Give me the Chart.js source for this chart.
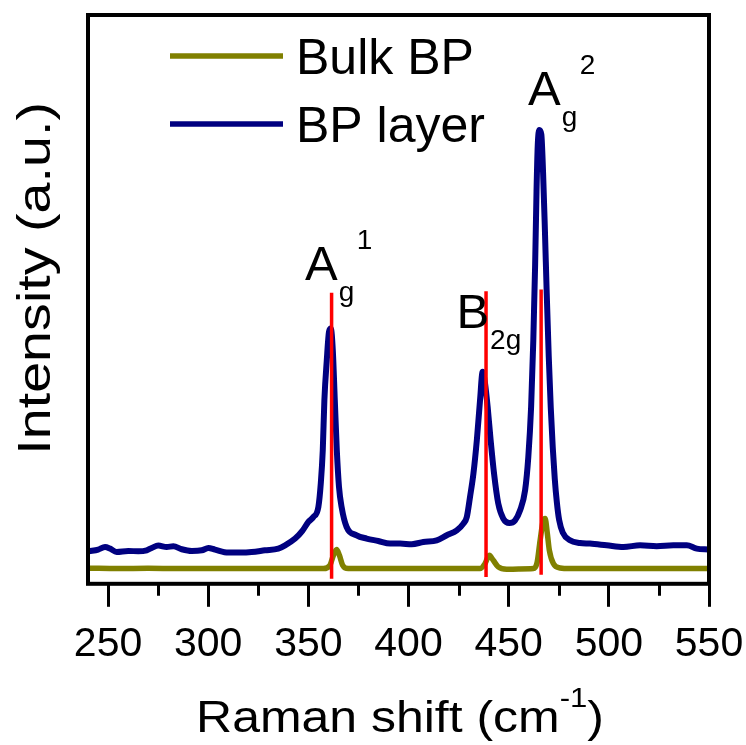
<!DOCTYPE html>
<html>
<head>
<meta charset="utf-8">
<title>Raman spectra of black phosphorus</title>
<script src="https://cdn.jsdelivr.net/npm/chart.js"></script>
<style>
  html, body { margin: 0; padding: 0; background: #fff; }
  canvas { display: block; }
</style>
</head>
<body>
<canvas id="ramanChart" width="746" height="745"></canvas>
<script>
// BP layer spectrum: Raman shift (cm-1) and intensity (a.u.)
const bpLayerShift = [
  240.5, 245.1, 248.5, 251.0, 254.3, 260.1, 265.1, 269.3, 271.8, 275.1,
  279.3, 282.6, 286.8, 291.8, 296.8, 300.1, 303.4, 310.0, 316.7, 321.7,
  328.3, 335.0, 338.4, 343.4, 347.0, 350.0, 352.5, 355.0, 356.2, 357.2,
  358.0, 359.2, 360.3, 361.2, 362.2, 363.2, 364.2, 365.3, 366.6, 369.1,
  374.1, 379.1, 384.9, 390.8, 395.8, 401.6, 407.4, 414.1, 419.1, 424.1,
  427.4, 429.1, 430.7, 432.4, 434.1, 435.7, 437.0, 438.2, 439.5, 441.0,
  442.7, 444.8, 447.3, 450.3, 453.2, 455.7, 458.2, 459.8, 461.2, 462.3,
  463.2, 463.9, 464.5, 465.3, 466.3, 467.2, 468.1, 469.0, 470.0, 471.0,
  472.0, 473.0, 474.0, 475.2, 477.0, 480.6, 485.6, 490.6, 498.9, 507.3,
  515.6, 523.9, 532.2, 538.9, 543.9, 549.7
];
const bpLayerIntensity = [
  57.0, 60.2, 64.7, 61.9, 55.9, 57.7, 57.2, 58.9, 63.0, 67.2,
  64.7, 66.0, 60.7, 57.7, 58.9, 63.0, 60.2, 54.9, 54.9, 55.9,
  58.9, 61.9, 67.7, 79.5, 93.0, 108.7, 117.5, 135.1, 176.3, 234.8,
  322.8, 393.1, 442.9, 448.9, 410.7, 322.8, 234.8, 170.3, 135.1, 99.9,
  85.3, 79.5, 75.3, 70.7, 70.7, 69.5, 73.5, 76.5, 85.3, 94.1,
  105.9, 117.5, 152.7, 193.8, 252.4, 322.8, 372.6, 352.2, 311.0, 252.4,
  193.8, 141.1, 114.7, 106.9, 111.7, 129.3, 164.5, 223.0, 311.0, 428.3,
  560.0, 690.0, 770.0, 798.0, 790.0, 720.0, 620.0, 510.0, 400.0, 310.0,
  240.0, 185.0, 145.0, 112.0, 90.0, 76.5, 71.8, 70.7, 67.7, 64.7,
  67.7, 66.0, 67.7, 67.7, 61.9, 60.2
];

// Bulk BP spectrum
const bulkShift = [
  240.5, 255.0, 270.0, 285.0, 300.0, 315.0, 330.0, 345.0, 357.5, 360.8,
  362.5, 364.1, 365.5, 367.1, 369.9, 385.0, 400.0, 415.0, 430.0, 435.7,
  438.2, 440.3, 442.3, 444.8, 449.0, 455.0, 462.3, 464.2, 465.7, 467.3,
  468.2, 469.3, 470.3, 472.3, 475.6, 480.6, 495.0, 510.0, 525.0, 540.0,
  549.7
];
const bulkIntensity = [
  27.5, 26.8, 27.3, 26.9, 27.0, 26.7, 27.1, 26.8, 26.7, 32.7,
  50.1, 60.2, 50.1, 32.7, 26.7, 27.0, 26.8, 27.0, 26.9, 26.7,
  35.5, 50.1, 41.3, 29.6, 25.5, 26.0, 26.7, 37.8, 76.5, 111.7,
  114.7, 88.3, 58.9, 35.5, 27.8, 26.7, 26.8, 27.0, 26.9, 27.0,
  27.0
];

// Phonon modes marked by red lines: position and line extent
const modeShift = [361.6, 438.7, 466.2];
const modeLineBottom = [9, 12, 16];
const modeLineTop = [511.5, 514.5, 517.5];
const modeMain = ['A', 'B', 'A'];
const modeSub = ['g', '2g', 'g'];
const modeSup = ['1', '', '2'];

// Axis ticks
const xMajorTicks = [250, 300, 350, 400, 450, 500, 550];
const xMinorTicks = [275, 325, 375, 425, 475, 525];

// where each mode label sits (data units: left edge, baseline)
const labelAnchors = [
  { x: 348.3, y: 534 },
  { x: 423.9, y: 449 },
  { x: 459.7, y: 842 }
];

const FONT = '"Liberation Sans", Arial, sans-serif';

function toPoints(xs, ys) {
  return xs.map((x, i) => ({ x: x, y: ys[i] }));
}

const datasets = [
  {
    label: 'Bulk BP',
    data: toPoints(bulkShift, bulkIntensity),
    borderColor: '#808000',
    borderWidth: 5.5,
    order: 2
  },
  {
    label: 'BP layer',
    data: toPoints(bpLayerShift, bpLayerIntensity),
    borderColor: '#000080',
    borderWidth: 6,
    order: 2
  }
];

modeShift.forEach((s, i) => {
  datasets.push({
    label: '',
    data: [{ x: s, y: modeLineBottom[i] }, { x: s, y: modeLineTop[i] }],
    borderColor: '#ff0000',
    borderWidth: 3.5,
    order: 1
  });
});

// frame, minor ticks, legend, mode labels and axis titles
const decorations = {
  id: 'decorations',
  afterDraw(chart) {
    const ctx = chart.ctx;
    const a = chart.chartArea;
    const x = chart.scales.x;
    const y = chart.scales.y;
    ctx.save();

    ctx.strokeStyle = '#000';
    ctx.lineWidth = 4;
    ctx.strokeRect(a.left, a.top, a.right - a.left, a.bottom - a.top);

    ctx.lineWidth = 3;
    ctx.beginPath();
    xMinorTicks.forEach(v => {
      const px = Math.round(x.getPixelForValue(v)) + 0.5;
      ctx.moveTo(px, a.bottom);
      ctx.lineTo(px, a.bottom + 12);
    });
    ctx.stroke();

    // legend
    ctx.textBaseline = 'alphabetic';
    ctx.textAlign = 'left';
    chart.data.datasets.filter(d => d.label).forEach((d, i) => {
      const ly = 56 + i * 68;
      ctx.strokeStyle = d.borderColor;
      ctx.lineWidth = 5.5;
      ctx.beginPath();
      ctx.moveTo(170, ly);
      ctx.lineTo(283, ly);
      ctx.stroke();
      ctx.fillStyle = '#000';
      ctx.font = '50px ' + FONT;
      ctx.fillText(d.label, 296, ly + 18);
    });

    // mode labels
    ctx.fillStyle = '#000';
    modeMain.forEach((m, i) => {
      const px = x.getPixelForValue(labelAnchors[i].x);
      const py = y.getPixelForValue(labelAnchors[i].y);
      ctx.font = '49px ' + FONT;
      ctx.fillText(m, px, py);
      const w = ctx.measureText(m).width;
      ctx.font = '28px ' + FONT;
      ctx.fillText(modeSub[i], px + w + 1, py + 21);
      if (modeSup[i]) ctx.fillText(modeSup[i], px + w + 19, py - 31);
    });

    // x title with superscript
    const parts = [
      { t: 'Raman shift (cm', size: 45, dy: 0 },
      { t: '-1', size: 28, dy: -25 },
      { t: ')', size: 45, dy: 0 }
    ];
    let total = 0;
    parts.forEach(p => { ctx.font = p.size + 'px ' + FONT; p.w = ctx.measureText(p.t).width; total += p.w; });
    ctx.save();
    ctx.translate((a.left + a.right) / 2 + 1.5, a.bottom + 148.5);
    ctx.scale(1.11, 1);
    let cx = -total / 2;
    parts.forEach(p => {
      ctx.font = p.size + 'px ' + FONT;
      ctx.fillText(p.t, cx, p.dy);
      cx += p.w;
    });
    ctx.restore();

    // y title
    ctx.save();
    ctx.translate(a.left - 38, (a.top + a.bottom) / 2 - 21);
    ctx.rotate(-Math.PI / 2);
    ctx.scale(1.21, 1);
    ctx.textAlign = 'center';
    ctx.font = '46px ' + FONT;
    ctx.fillText('Intensity (a.u.)', 0, 0);
    ctx.restore();

    ctx.restore();
  }
};

const chart = new Chart(document.getElementById('ramanChart'), {
  type: 'line',
  data: { datasets: datasets },
  options: {
    responsive: false,
    animation: false,
    devicePixelRatio: 1,
    layout: { padding: { left: 88, right: 37, top: 15, bottom: 63 } },
    elements: {
      point: { radius: 0 },
      line: { cubicInterpolationMode: 'monotone', borderJoinStyle: 'round' }
    },
    plugins: {
      legend: { display: false },
      tooltip: { enabled: false }
    },
    scales: {
      x: {
        type: 'linear',
        min: 240,
        max: 550,
        afterBuildTicks: axis => { axis.ticks = xMajorTicks.map(v => ({ value: v })); },
        // the last label may hang past the plot edge, so keep the layout padding as set
        afterFit: axis => { axis.paddingLeft = 0; axis.paddingRight = 0; },
        ticks: {
          color: '#000',
          font: { family: FONT, size: 41 },
          padding: 13,
          maxRotation: 0,
          autoSkip: false
        },
        grid: {
          display: true,
          drawOnChartArea: false,
          drawTicks: true,
          tickLength: 23,
          tickWidth: 3,
          tickColor: '#000'
        },
        border: { display: false }
      },
      y: { display: false, min: 0, max: 1000 }
    }
  },
  plugins: [decorations]
});
</script>
</body>
</html>
